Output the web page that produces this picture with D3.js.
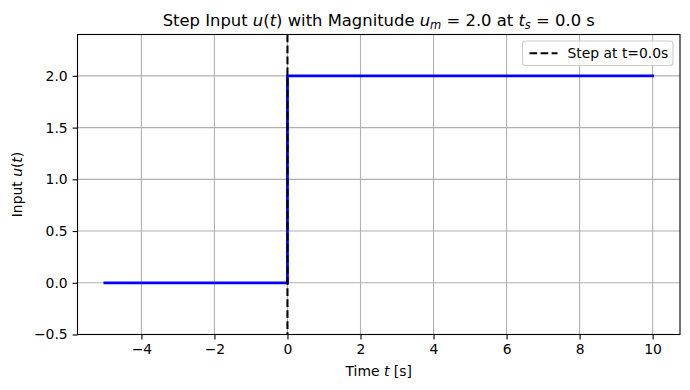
<!DOCTYPE html>
<html>
<head>
<meta charset="utf-8">
<script src="https://cdn.jsdelivr.net/npm/d3@7"></script>
<style>
  body { margin: 0; background: #fff; }
  svg { font-family: "DejaVu Sans", sans-serif; }
  .grid line { stroke: #b0b0b0; stroke-width: 1.1; }
</style>
</head>
<body>
<svg id="chart" width="690" height="390"></svg>
<script>
// step signal data
var timeValues = [-5, 0, 0, 10]
var inputValues = [0, 0, 2, 2]
var stepTime = 0.0
var stepMag = 2.0
var xTicks = [-4, -2, 0, 2, 4, 6, 8, 10]
var yTicks = [-0.5, 0.0, 0.5, 1.0, 1.5, 2.0]

var svg = d3.select("#chart")
var plotLeft = 77.5, plotRight = 680, plotTop = 34.5, plotBottom = 334.5
var dash = "7.7,3.33"

var xScale = d3.scaleLinear().domain([-5.75, 10.75]).range([plotLeft, plotRight])
var yScale = d3.scaleLinear().domain([-0.5, 2.4]).range([plotBottom, plotTop])

// grid
svg.append("g").attr("class", "grid")
  .selectAll("line").data(xTicks).enter().append("line")
  .attr("x1", d => xScale(d)).attr("x2", d => xScale(d))
  .attr("y1", plotTop).attr("y2", plotBottom)
svg.append("g").attr("class", "grid")
  .selectAll("line").data(yTicks).enter().append("line")
  .attr("x1", plotLeft).attr("x2", plotRight)
  .attr("y1", d => yScale(d)).attr("y2", d => yScale(d))

// step line
var pts = timeValues.map((t, i) => [t, inputValues[i]])
svg.append("path")
  .attr("d", d3.line().x(d => xScale(d[0])).y(d => yScale(d[1]))(pts))
  .attr("fill", "none").attr("stroke", "#0000ff").attr("stroke-width", 2.78)
  .attr("stroke-linecap", "square")

// step marker
svg.append("line")
  .attr("x1", xScale(stepTime)).attr("x2", xScale(stepTime))
  .attr("y1", plotTop).attr("y2", plotBottom)
  .attr("stroke", "#000").attr("stroke-width", 2.08)
  .attr("stroke-dasharray", dash)

// axes
var xAxis = d3.axisBottom(xScale).tickValues(xTicks).tickSize(4.9).tickPadding(4.9)
  .tickFormat(d => d < 0 ? "\u2212" + Math.abs(d) : d)
var yAxis = d3.axisLeft(yScale).tickValues(yTicks).tickSize(4.9).tickPadding(4.9)
  .tickFormat(d => (d < 0 ? "\u2212" : "") + Math.abs(d).toFixed(1))
var gx = svg.append("g").attr("transform", "translate(0," + plotBottom + ")").call(xAxis)
var gy = svg.append("g").attr("transform", "translate(" + plotLeft + ",0)").call(yAxis)
;[gx, gy].forEach(g => {
  g.attr("font-size", 13.9).attr("font-family", "DejaVu Sans, sans-serif")
  g.select(".domain").remove()
  g.selectAll(".tick line").attr("stroke", "#000").attr("stroke-width", 1.1)
  g.selectAll(".tick text").attr("fill", "#000")
})

// frame
svg.append("rect")
  .attr("x", plotLeft).attr("y", plotTop)
  .attr("width", plotRight - plotLeft).attr("height", plotBottom - plotTop)
  .attr("fill", "none").attr("stroke", "#000").attr("stroke-width", 1.1)

// title
var title = svg.append("text")
  .attr("x", (plotLeft + plotRight) / 2).attr("y", 26)
  .attr("text-anchor", "middle").attr("font-size", 16.4)
title.append("tspan").text("Step Input ")
title.append("tspan").attr("font-style", "italic").text("u")
title.append("tspan").text("(")
title.append("tspan").attr("font-style", "italic").text("t")
title.append("tspan").text(") with Magnitude ")
title.append("tspan").attr("font-style", "italic").text("u")
title.append("tspan").attr("font-style", "italic").attr("font-size", 11.5).attr("dy", 3).text("m")
title.append("tspan").attr("dy", -3).text(" = " + stepMag.toFixed(1) + " at ")
title.append("tspan").attr("font-style", "italic").text("t")
title.append("tspan").attr("font-style", "italic").attr("font-size", 11.5).attr("dy", 3).text("s")
title.append("tspan").attr("dy", -3).text(" = " + stepTime.toFixed(1) + " s")

// axis labels
var xl = svg.append("text")
  .attr("x", (plotLeft + plotRight) / 2).attr("y", 376)
  .attr("text-anchor", "middle").attr("font-size", 13.9)
xl.append("tspan").text("Time ")
xl.append("tspan").attr("font-style", "italic").text("t")
xl.append("tspan").text(" [s]")

var yl = svg.append("text")
  .attr("transform", "translate(22," + (plotTop + plotBottom) / 2 + ") rotate(-90)")
  .attr("text-anchor", "middle").attr("font-size", 13.9)
yl.append("tspan").text("Input ")
yl.append("tspan").attr("font-style", "italic").text("u")
yl.append("tspan").text("(")
yl.append("tspan").attr("font-style", "italic").text("t")
yl.append("tspan").text(")")

// legend
var lg = svg.append("g").attr("transform", "translate(522.5,41)")
lg.append("rect").attr("width", 150.5).attr("height", 24.5).attr("rx", 3)
  .attr("fill", "#fff").attr("fill-opacity", 0.8)
  .attr("stroke", "#cccccc").attr("stroke-width", 1.1)
lg.append("line").attr("x1", 7).attr("x2", 35).attr("y1", 12.3).attr("y2", 12.3)
  .attr("stroke", "#000").attr("stroke-width", 2.08).attr("stroke-dasharray", dash)
lg.append("text").attr("x", 45).attr("y", 17.2).attr("font-size", 13.9)
  .text("Step at t=" + stepTime.toFixed(1) + "s")
</script>
</body>
</html>
